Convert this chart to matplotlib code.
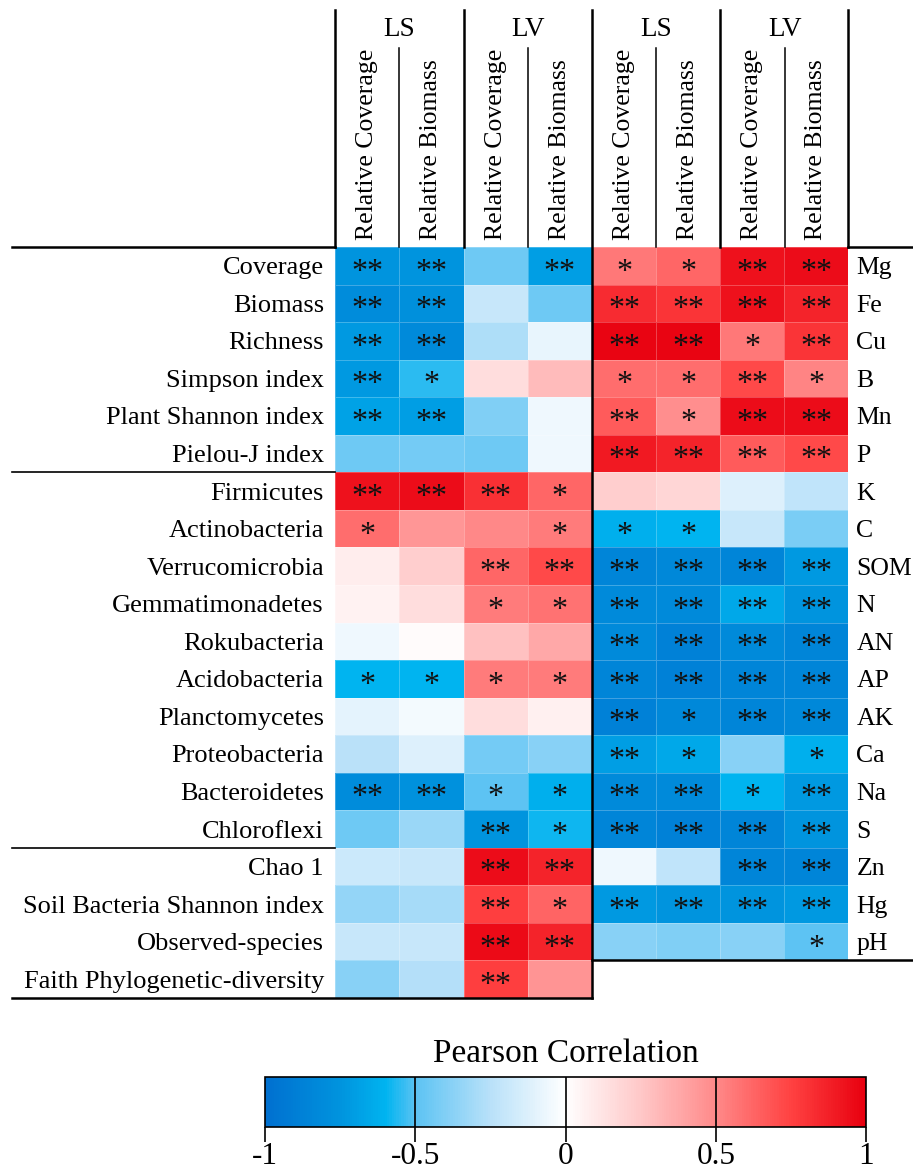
import numpy as np
import matplotlib
matplotlib.use("Agg")
import matplotlib.pyplot as plt
from matplotlib.colors import LinearSegmentedColormap, Normalize
from matplotlib.cm import ScalarMappable
from matplotlib.lines import Line2D

plt.rcParams['font.family'] = ['Liberation Serif', 'DejaVu Serif']
plt.rcParams['axes.unicode_minus'] = False

# column names (same for both panels)
groups = ["LS", "LV"]
measures = ["Relative Coverage", "Relative Biomass"]

# left panel: plant / bacteria indices
left_rows = ["Coverage", "Biomass", "Richness", "Simpson index", "Plant Shannon index",
             "Pielou-J index", "Firmicutes", "Actinobacteria", "Verrucomicrobia",
             "Gemmatimonadetes", "Rokubacteria", "Acidobacteria", "Planctomycetes",
             "Proteobacteria", "Bacteroidetes", "Chloroflexi", "Chao 1",
             "Soil Bacteria Shannon index", "Observed-species", "Faith Phylogenetic-diversity"]
left_groups = [6, 10, 4]   # rows per block

left_vals = np.array([
    [-0.75, -0.75, -0.45, -0.70],
    [-0.80, -0.78, -0.20, -0.45],
    [-0.72, -0.82, -0.28, -0.08],
    [-0.72, -0.55,  0.15,  0.30],
    [-0.68, -0.70, -0.40, -0.06],
    [-0.45, -0.43, -0.45, -0.06],
    [ 0.93,  0.95,  0.82,  0.62],
    [ 0.60,  0.45,  0.50,  0.55],
    [ 0.08,  0.22,  0.62,  0.72],
    [ 0.06,  0.15,  0.55,  0.58],
    [-0.06,  0.02,  0.28,  0.38],
    [-0.60, -0.60,  0.55,  0.55],
    [-0.10, -0.04,  0.15,  0.07],
    [-0.25, -0.12, -0.43, -0.38],
    [-0.80, -0.77, -0.50, -0.62],
    [-0.45, -0.33, -0.75, -0.58],
    [-0.18, -0.20,  0.95,  0.86],
    [-0.35, -0.30,  0.76,  0.63],
    [-0.20, -0.20,  0.96,  0.86],
    [-0.38, -0.26,  0.76,  0.46],
])
left_sig = [
    ["**", "**", "", "**"],
    ["**", "**", "", ""],
    ["**", "**", "", ""],
    ["**", "*", "", ""],
    ["**", "**", "", ""],
    ["", "", "", ""],
    ["**", "**", "**", "*"],
    ["*", "", "", "*"],
    ["", "", "**", "**"],
    ["", "", "*", "*"],
    ["", "", "", ""],
    ["*", "*", "*", "*"],
    ["", "", "", ""],
    ["", "", "", ""],
    ["**", "**", "*", "*"],
    ["", "", "**", "*"],
    ["", "", "**", "**"],
    ["", "", "**", "*"],
    ["", "", "**", "**"],
    ["", "", "**", ""],
]

# right panel: soil properties
right_rows = ["Mg", "Fe", "Cu", "B", "Mn", "P", "K", "C", "SOM", "N", "AN", "AP",
              "AK", "Ca", "Na", "S", "Zn", "Hg", "pH"]
right_vals = np.array([
    [ 0.56,  0.62,  0.93,  0.95],
    [ 0.83,  0.80,  0.93,  0.86],
    [ 0.98,  0.98,  0.56,  0.80],
    [ 0.60,  0.60,  0.72,  0.52],
    [ 0.66,  0.48,  0.95,  0.95],
    [ 0.90,  0.86,  0.66,  0.72],
    [ 0.22,  0.18, -0.12, -0.22],
    [-0.62, -0.60, -0.20, -0.42],
    [-0.85, -0.83, -0.85, -0.72],
    [-0.82, -0.82, -0.65, -0.75],
    [-0.82, -0.88, -0.82, -0.85],
    [-0.85, -0.88, -0.85, -0.85],
    [-0.88, -0.83, -0.85, -0.83],
    [-0.70, -0.65, -0.38, -0.62],
    [-0.82, -0.82, -0.60, -0.72],
    [-0.85, -0.88, -0.85, -0.75],
    [-0.06, -0.22, -0.85, -0.85],
    [-0.72, -0.75, -0.75, -0.72],
    [-0.38, -0.40, -0.38, -0.50],
])
right_sig = [
    ["*", "*", "**", "**"],
    ["**", "**", "**", "**"],
    ["**", "**", "*", "**"],
    ["*", "*", "**", "*"],
    ["**", "*", "**", "**"],
    ["**", "**", "**", "**"],
    ["", "", "", ""],
    ["*", "*", "", ""],
    ["**", "**", "**", "**"],
    ["**", "**", "**", "**"],
    ["**", "**", "**", "**"],
    ["**", "**", "**", "**"],
    ["**", "*", "**", "**"],
    ["**", "*", "", "*"],
    ["**", "**", "*", "**"],
    ["**", "**", "**", "**"],
    ["", "", "**", "**"],
    ["**", "**", "**", "**"],
    ["", "", "", "*"],
]

cbar_ticks = [-1, -0.5, 0, 0.5, 1]
cbar_labels = ["-1", "-0.5", "0", "0.5", "1"]

cmap = LinearSegmentedColormap.from_list("pearson", [
    (0.000, "#0070d0"),
    (0.125, "#0094de"),
    (0.200, "#00b4f0"),
    (0.250, "#5cc3f3"),
    (0.375, "#b9e1f9"),
    (0.500, "#ffffff"),
    (0.625, "#ffc8c8"),
    (0.750, "#ff8a8a"),
    (0.875, "#ff4242"),
    (1.000, "#e8000f"),
])
norm = Normalize(-1, 1)

W, H = 913, 1172
fig = plt.figure(figsize=(W / 100, H / 100), dpi=100)


def fx(x):
    return x / W


def fy(y):
    return 1 - y / H


def hline(y, x0, x1, lw=1.6):
    fig.add_artist(Line2D([fx(x0), fx(x1)], [fy(y), fy(y)], transform=fig.transFigure,
                          color="black", lw=lw))


def vline(x, y0, y1, lw=1.6):
    fig.add_artist(Line2D([fx(x), fx(x)], [fy(y0), fy(y1)], transform=fig.transFigure,
                          color="black", lw=lw))


top = 247
row_h = 37.55
x_left, x_mid, x_right = 335, 592, 848


def draw_panel(rect, vals, sig, rows, side):
    ax = fig.add_axes(rect)
    ax.pcolormesh(vals, cmap=cmap, norm=norm, edgecolors=(1, 1, 1, 0.25), linewidth=0.4)
    ax.set_xlim(0, vals.shape[1])
    ax.set_ylim(vals.shape[0], 0)
    for i in range(vals.shape[0]):
        for j in range(vals.shape[1]):
            if sig[i][j]:
                ax.text(j + 0.5, i + 0.87, sig[i][j], ha="center", va="baseline",
                        fontsize=23, color="#111111")
    ax.set_xticks([])
    ax.set_yticks(np.arange(len(rows)) + 0.5)
    if side == "right":
        ax.yaxis.tick_right()
        ax.set_yticklabels(rows, fontsize=18.5)
        ax.tick_params(axis="y", length=0, pad=6)
    else:
        ax.set_yticklabels(rows, fontsize=19)
        ax.tick_params(axis="y", length=0, pad=8)
    for s in ax.spines.values():
        s.set_visible(False)
    k = 0
    for g in groups:
        for m in measures:
            ax.text(k + 0.5, -0.18, m, rotation=90, ha="center", va="bottom",
                    fontsize=18.5)
            k += 1
    return ax


n_left = len(left_rows)
n_right = len(right_rows)
bottom_left = top + n_left * row_h
bottom_right = top + n_right * row_h

draw_panel([fx(x_left), fy(bottom_left), (x_mid - x_left) / W, n_left * row_h / H],
           left_vals, left_sig, left_rows, "left")
draw_panel([fx(x_mid), fy(bottom_right), (x_right - x_mid) / W, n_right * row_h / H],
           right_vals, right_sig, right_rows, "right")

# header grid
col_w = (x_mid - x_left) / 4
for x in [x_left, x_left + 2 * col_w, x_right - 2 * col_w, x_right]:
    vline(x, 10, top, lw=1.8)
vline(x_mid, 10, bottom_left, lw=1.8)
for x in [x_left + col_w, x_left + 3 * col_w, x_mid + col_w, x_mid + 3 * col_w]:
    vline(x, 48, top, lw=1.1)
for k, g in enumerate(groups * 2):
    fig.text(fx(x_left + col_w * (2 * k + 1)), fy(30), g, ha="center", va="center",
             fontsize=19.5)

# row grid lines
hline(top, 12, x_left, lw=1.8)
hline(top, x_right, W, lw=1.8)
acc = 0
for n in left_groups[:-1]:
    acc += n
    hline(top + acc * row_h, 12, x_left, lw=1.2)
hline(bottom_left, 12, x_mid, lw=1.8)
hline(bottom_right, x_mid, W, lw=1.8)

# colorbar
cax = fig.add_axes([fx(265), fy(1127), 601 / W, 50 / H])
cb = fig.colorbar(ScalarMappable(norm=norm, cmap=cmap), cax=cax,
                  orientation="horizontal", ticks=cbar_ticks)
cb.ax.set_xticklabels(cbar_labels, fontsize=22.5)
cb.ax.tick_params(length=11, width=1.2, pad=0)
cb.outline.set_linewidth(1.2)
for t in cbar_ticks[1:-1]:
    cax.axvline(t, color="black", lw=1.2)
cax.set_title("Pearson Correlation", fontsize=24, pad=11)

fig.savefig("out.png", dpi=100)
